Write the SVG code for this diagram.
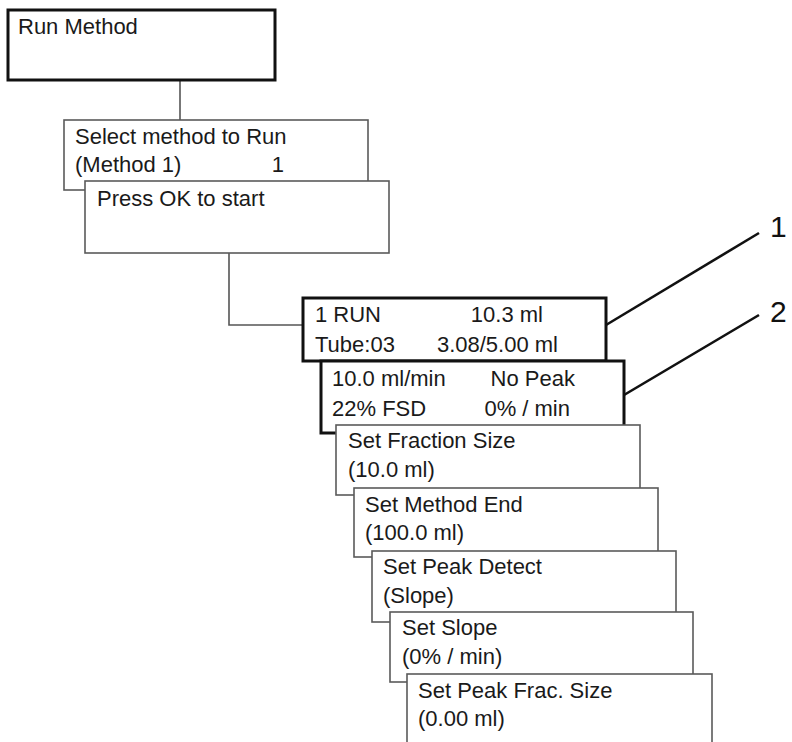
<svg xmlns="http://www.w3.org/2000/svg" width="792" height="742" viewBox="0 0 792 742">
<style>
.box{fill:#fff;stroke:#5a5a5a;stroke-width:1.6}
.thick{fill:#fff;stroke:#111;stroke-width:3}
.t{font-family:"Liberation Sans",Arial,sans-serif;font-size:22px;fill:#1a1a1a}
.e{text-anchor:end}
.c{fill:none;stroke:#555;stroke-width:1.6}
.lead{fill:none;stroke:#111;stroke-width:2.6}
.lbl{font-family:"Liberation Sans",Arial,sans-serif;font-size:30px;fill:#111}
</style>
<rect width="792" height="742" fill="#fff"/>
<g id="connectors">
<line class="c" x1="180" y1="80" x2="180" y2="120"/>
<polyline class="c" points="229,253 229,325 303,325"/>
</g>
<g id="run-method">
<rect class="thick" x="8" y="10" width="267" height="70"/>
<text class="t" x="18" y="34">Run Method</text>
</g>
<g id="select-method">
<rect class="box" x="64" y="120" width="304" height="70"/>
<text class="t" x="75" y="144">Select method to Run</text>
<text class="t" x="75" y="172">(Method 1)</text>
<text class="t e" x="284" y="172">1</text>
</g>
<g id="press-ok">
<rect class="box" x="85" y="181" width="304" height="72"/>
<text class="t" x="97" y="206">Press OK to start</text>
</g>
<g id="run-display-1">
<rect class="thick" x="303" y="298" width="303" height="63"/>
<text class="t" x="315" y="322">1 RUN</text>
<text class="t e" x="543" y="322">10.3 ml</text>
<text class="t" x="315" y="352">Tube:03</text>
<text class="t e" x="558" y="352">3.08/5.00 ml</text>
</g>
<g id="run-display-2">
<rect class="thick" x="321" y="361" width="303" height="72"/>
<text class="t" x="332" y="386">10.0 ml/min</text>
<text class="t e" x="575" y="386">No Peak</text>
<text class="t" x="332" y="416">22% FSD</text>
<text class="t e" x="570" y="416">0% / min</text>
</g>
<g id="set-fraction-size">
<rect class="box" x="336" y="425" width="304" height="70"/>
<text class="t" x="348" y="448">Set Fraction Size</text>
<text class="t" x="348" y="477">(10.0 ml)</text>
</g>
<g id="set-method-end">
<rect class="box" x="354" y="488" width="304" height="69"/>
<text class="t" x="365" y="512">Set Method End</text>
<text class="t" x="365" y="540">(100.0 ml)</text>
</g>
<g id="set-peak-detect">
<rect class="box" x="372" y="551" width="304" height="71"/>
<text class="t" x="383" y="574">Set Peak Detect</text>
<text class="t" x="383" y="603">(Slope)</text>
</g>
<g id="set-slope">
<rect class="box" x="390" y="612" width="303" height="70"/>
<text class="t" x="402" y="635">Set Slope</text>
<text class="t" x="402" y="664">(0% / min)</text>
</g>
<g id="set-peak-frac-size">
<rect class="box" x="407" y="674" width="305" height="90"/>
<text class="t" x="418" y="698">Set Peak Frac. Size</text>
<text class="t" x="418" y="726">(0.00 ml)</text>
</g>
<g id="callouts">
<line class="lead" x1="606" y1="325" x2="759" y2="233"/>
<line class="lead" x1="624" y1="395" x2="759" y2="315"/>
<text class="lbl" x="770" y="237">1</text>
<text class="lbl" x="770" y="322">2</text>
</g>
</svg>
